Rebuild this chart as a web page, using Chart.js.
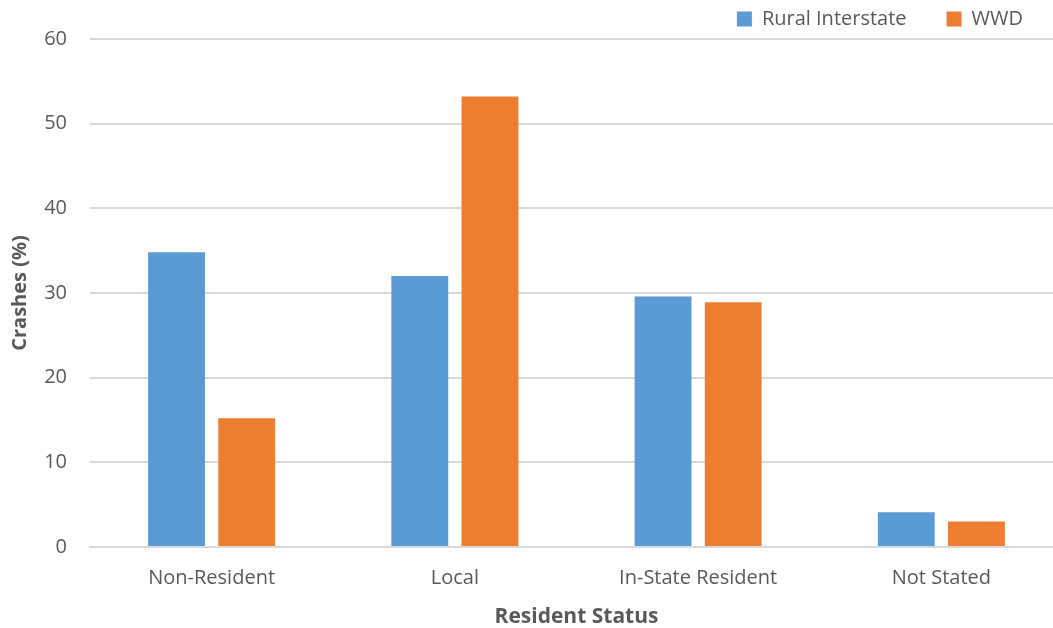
<!DOCTYPE html>
<html>
<head>
<meta charset="utf-8">
<script src="https://cdn.jsdelivr.net/npm/chart.js@4/dist/chart.umd.min.js"></script>
<style>
    html, body { margin: 0; padding: 0; background: #fff; overflow: hidden; }
    /* plot area runs past the right edge of the picture, like the source */
    #wrap { width: 1063px; height: 628px; }
</style>
</head>
<body>
<div id="wrap"><canvas id="crashChart"></canvas></div>
<script>
const categories = ["Non-Resident", "Local", "In-State Resident", "Not Stated"]
const ruralInterstate = [34.8, 32.0, 29.6, 4.1]
const wwd = [15.2, 53.2, 28.9, 3.0]
const yTicks = [0, 10, 20, 30, 40, 50, 60]

const textColor = "#595959"
const gridColor = "#D9D9D9"
const fontFamily = "'Open Sans', 'Liberation Sans', sans-serif"

const ctx = document.getElementById("crashChart").getContext("2d")

new Chart(ctx, {
    type: "bar",
    data: {
        labels: categories,
        datasets: [
            {
                label: "Rural Interstate",
                data: ruralInterstate,
                backgroundColor: "#5B9BD5",
                categoryPercentage: 0.577,
                barPercentage: 0.81
            },
            {
                label: "WWD",
                data: wwd,
                backgroundColor: "#ED7D31",
                categoryPercentage: 0.577,
                barPercentage: 0.81
            }
        ]
    },
    options: {
        responsive: true,
        maintainAspectRatio: false,
        animation: false,
        layout: { padding: { top: -31, right: 0, bottom: 0, left: 8 } },
        scales: {
            x: {
                afterFit: axis => { axis.height = 81 },
                grid: { display: false, drawTicks: false },
                border: { color: gridColor, width: 2 },
                ticks: { color: textColor, font: { family: fontFamily, size: 20 }, padding: 19 },
                title: {
                    display: true,
                    text: "Resident Status",
                    color: textColor,
                    font: { family: fontFamily, size: 21, weight: "bold", lineHeight: 1 },
                    padding: { top: 0, bottom: 0 }
                }
            },
            y: {
                min: 0,
                max: 60,
                afterFit: axis => { axis.width = 82 },
                afterBuildTicks: axis => { axis.ticks = yTicks.map(v => ({ value: v })) },
                grid: { color: gridColor, lineWidth: 2, drawTicks: false },
                border: { display: false },
                ticks: { color: textColor, font: { family: fontFamily, size: 20 }, padding: 23 },
                title: {
                    display: true,
                    text: "Crashes (%)",
                    color: textColor,
                    font: { family: fontFamily, size: 20, weight: "bold" },
                    padding: { top: 0, bottom: 0 }
                }
            }
        },
        plugins: {
            legend: {
                position: "top",
                align: "end",
                maxHeight: 72,
                labels: {
                    color: textColor,
                    font: { family: fontFamily, size: 20 },
                    boxWidth: 15,
                    boxHeight: 15,
                    padding: 40
                }
            },
            tooltip: { enabled: false }
        }
    }
})
</script>
</body>
</html>
